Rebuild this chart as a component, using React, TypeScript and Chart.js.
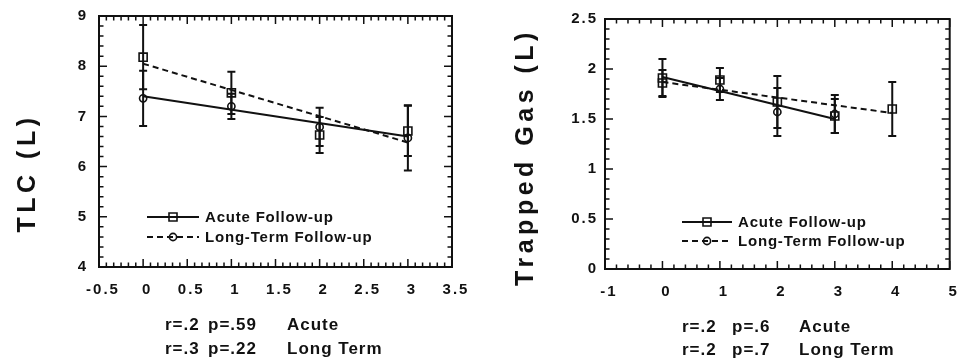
import React, { useEffect, useRef } from "react";
import { Chart, registerables } from "chart.js";

Chart.register(...registerables);

const FONT = "'Liberation Sans', Arial, Helvetica, sans-serif";
const INK = "#111111";

// ---------- TLC panel data ----------
const tlcVisits = [0, 1, 2, 3];
const tlcAcute = [8.18, 7.47, 6.63, 6.71];
const tlcAcuteErr = [0.64, 0.42, 0.36, 0.5];
const tlcLong = [7.36, 7.2, 6.79, 6.57];
const tlcLongErr = [0.55, 0.25, 0.38, 0.65];
const tlcFitSolidX = [0, 3];
const tlcFitSolidY = [7.4, 6.6];
const tlcFitDashX = [0, 3];
const tlcFitDashY = [8.05, 6.48];
const tlcStats = [
  ["r=.2", "p=.59", "Acute"],
  ["r=.3", "p=.22", "Long Term"],
];

// ---------- Trapped gas panel data ----------
const tgAcuteVisits = [0, 1, 2, 3];
const tgAcute = [1.86, 1.89, 1.67, 1.53];
const tgAcuteErr = [0.13, 0.12, 0.26, 0.17];
const tgLongVisits = [0, 1, 2, 3, 4];
const tgLong = [1.91, 1.8, 1.57, 1.55, 1.6];
const tgLongErr = [0.19, 0.11, 0.24, 0.19, 0.27];
const tgLongStyles = ["rect", "circle", "circle", "circle", "rect"];
const tgFitSolidX = [0, 3];
const tgFitSolidY = [1.92, 1.5];
const tgFitDashX = [0, 4];
const tgFitDashY = [1.87, 1.56];
const tgStats = [
  ["r=.2", "p=.6", "Acute"],
  ["r=.2", "p=.7", "Long Term"],
];

const legendLabels = ["Acute Follow-up", "Long-Term Follow-up"];

const zip = (xs: number[], ys: number[]) => xs.map((x, i) => ({ x, y: ys[i] }));
const fmtTick = (v: any) => String(Math.round(Number(v) * 1000) / 1000);

type Spec = {
  id: string;
  left: number;
  width: number;
  title: string;
  titleX: number;
  titleY: number;
  xMin: number;
  xMax: number;
  xStep: number;
  xMinor: number;
  xMajorEvery: number;
  yMin: number;
  yMax: number;
  yStep: number;
  yMinor: number;
  yMajorEvery: number;
  area: { left: number; right: number; top: number; bottom: number };
  yLabelPad: number;
  xLabelPad: number;
  legend: { x1: number; x2: number; mx: number; tx: number; rows: number[] };
  stats: string[][];
  statCols: number[];
  statRows: number[];
  datasets: any[];
};

function drawMarker(ctx: CanvasRenderingContext2D, style: string, x: number, y: number) {
  ctx.beginPath();
  if (style === "rect") {
    ctx.rect(x - 4, y - 4, 8, 8);
  } else {
    ctx.arc(x, y, 3.6, 0, Math.PI * 2);
  }
  ctx.stroke();
}

function makePlugin(spec: Spec) {
  return {
    id: "panel_" + spec.id,
    beforeDraw(chart: any) {
      (chart.ctx as any).letterSpacing = "2px";
    },
    beforeDatasetsDraw(chart: any) {
      const ctx: CanvasRenderingContext2D = chart.ctx;
      const xs = chart.scales.x;
      const ys = chart.scales.y;
      ctx.save();
      ctx.strokeStyle = INK;
      ctx.lineWidth = 2;
      chart.data.datasets.forEach((ds: any) => {
        if (!ds.errors) return;
        ds.data.forEach((pt: any, j: number) => {
          const e = ds.errors[j];
          const x = xs.getPixelForValue(pt.x);
          const y1 = ys.getPixelForValue(pt.y + e);
          const y2 = ys.getPixelForValue(pt.y - e);
          ctx.beginPath();
          ctx.moveTo(x, y1);
          ctx.lineTo(x, y2);
          ctx.moveTo(x - 4, y1);
          ctx.lineTo(x + 4, y1);
          ctx.moveTo(x - 4, y2);
          ctx.lineTo(x + 4, y2);
          ctx.stroke();
        });
      });
      ctx.restore();
    },
    afterDatasetsDraw(chart: any) {
      const ctx: CanvasRenderingContext2D = chart.ctx;
      const { left, right, top, bottom } = chart.chartArea;
      const xs = chart.scales.x;
      const ys = chart.scales.y;
      ctx.save();
      (ctx as any).letterSpacing = "0px";
      ctx.strokeStyle = INK;
      // frame
      ctx.lineWidth = 2;
      ctx.strokeRect(left, top, right - left, bottom - top);
      // ticks
      ctx.lineWidth = 1.5;
      const nx = Math.round((spec.xMax - spec.xMin) / spec.xMinor);
      for (let i = 0; i <= nx; i++) {
        const px = xs.getPixelForValue(spec.xMin + i * spec.xMinor);
        const len = i % spec.xMajorEvery === 0 ? 8 : 4.5;
        ctx.beginPath();
        ctx.moveTo(px, bottom);
        ctx.lineTo(px, bottom - len);
        ctx.moveTo(px, top);
        ctx.lineTo(px, top + len);
        ctx.stroke();
      }
      const ny = Math.round((spec.yMax - spec.yMin) / spec.yMinor);
      for (let i = 0; i <= ny; i++) {
        const py = ys.getPixelForValue(spec.yMin + i * spec.yMinor);
        const len = i % spec.yMajorEvery === 0 ? 8 : 4.5;
        ctx.beginPath();
        ctx.moveTo(left, py);
        ctx.lineTo(left + len, py);
        ctx.moveTo(right, py);
        ctx.lineTo(right - len, py);
        ctx.stroke();
      }
      // legend
      const lg = spec.legend;
      ctx.lineWidth = 2;
      lg.rows.forEach((ry, k) => {
        ctx.setLineDash(k === 0 ? [] : [6, 4]);
        ctx.beginPath();
        ctx.moveTo(lg.x1, ry);
        ctx.lineTo(lg.x2, ry);
        ctx.stroke();
        ctx.setLineDash([]);
        ctx.lineWidth = 1.6;
        drawMarker(ctx, k === 0 ? "rect" : "circle", lg.mx, ry);
        ctx.lineWidth = 2;
        ctx.fillStyle = INK;
        ctx.font = `bold 15px ${FONT}`;
        (ctx as any).letterSpacing = "0.8px";
        ctx.textAlign = "left";
        ctx.textBaseline = "middle";
        ctx.fillText(legendLabels[k], lg.tx, ry + 1);
        (ctx as any).letterSpacing = "0px";
      });
      ctx.restore();
    },
    afterDraw(chart: any) {
      const ctx: CanvasRenderingContext2D = chart.ctx;
      ctx.save();
      ctx.fillStyle = INK;
      // axis title
      ctx.font = `bold 25px ${FONT}`;
      (ctx as any).letterSpacing = "4.5px";
      ctx.translate(spec.titleX, spec.titleY);
      ctx.rotate(-Math.PI / 2);
      ctx.textAlign = "center";
      ctx.textBaseline = "alphabetic";
      ctx.fillText(spec.title, 0, 0);
      ctx.setTransform(1, 0, 0, 1, 0, 0);
      // statistics
      ctx.font = `bold 17px ${FONT}`;
      (ctx as any).letterSpacing = "1px";
      ctx.textAlign = "left";
      ctx.textBaseline = "middle";
      spec.stats.forEach((row, r) => {
        row.forEach((txt, c) => {
          ctx.fillText(txt, spec.statCols[c], spec.statRows[r]);
        });
      });
      ctx.restore();
      (ctx as any).letterSpacing = "0px";
    },
  };
}

function buildConfig(spec: Spec): any {
  const tickFont = { family: FONT, size: 15, weight: "bold" };
  const H = 358;
  return {
    type: "scatter",
    data: { datasets: spec.datasets },
    options: {
      animation: false,
      responsive: false,
      devicePixelRatio: 1,
      layout: {
        padding: { left: 0, top: spec.area.top, right: spec.width - spec.area.right, bottom: 0 },
      },
      plugins: { legend: { display: false }, tooltip: { enabled: false } },
      scales: {
        x: {
          type: "linear",
          min: spec.xMin,
          max: spec.xMax,
          grid: { display: false, drawTicks: false },
          border: { display: false },
          ticks: {
            stepSize: spec.xStep,
            color: INK,
            font: tickFont,
            padding: spec.xLabelPad,
            labelOffset: 4,
            maxRotation: 0,
            autoSkip: false,
            callback: fmtTick,
          },
          afterFit: (s: any) => {
            s.height = H - spec.area.bottom;
            s.paddingLeft = 0;
            s.paddingRight = 0;
          },
        },
        y: {
          type: "linear",
          min: spec.yMin,
          max: spec.yMax,
          grid: { display: false, drawTicks: false },
          border: { display: false },
          ticks: {
            stepSize: spec.yStep,
            color: INK,
            font: tickFont,
            padding: spec.yLabelPad,
            callback: fmtTick,
          },
          afterFit: (s: any) => {
            s.width = spec.area.left;
            s.paddingTop = 0;
            s.paddingBottom = 0;
          },
        },
      },
    },
    plugins: [makePlugin(spec)],
  };
}

const markerBase = {
  showLine: false,
  backgroundColor: "rgba(0,0,0,0)",
  borderColor: INK,
  pointBorderWidth: 1.6,
  pointBackgroundColor: "rgba(0,0,0,0)",
  pointBorderColor: INK,
};
const fitBase = {
  showLine: true,
  pointRadius: 0,
  borderColor: INK,
  borderWidth: 2,
  backgroundColor: "rgba(0,0,0,0)",
  fill: false,
};

const tlcSpec: Spec = {
  id: "tlc",
  left: 0,
  width: 480,
  title: "TLC (L)",
  titleX: 35,
  titleY: 173,
  xMin: -0.5,
  xMax: 3.5,
  xStep: 0.5,
  xMinor: 0.5 / 6,
  xMajorEvery: 6,
  yMin: 4,
  yMax: 9,
  yStep: 1,
  yMinor: 0.2,
  yMajorEvery: 5,
  area: { left: 99, right: 452, top: 16, bottom: 267 },
  yLabelPad: 11,
  xLabelPad: 14,
  legend: { x1: 147, x2: 199, mx: 173, tx: 205, rows: [217, 237] },
  stats: tlcStats,
  statCols: [165, 208, 287],
  statRows: [325, 349],
  datasets: [
    { ...fitBase, label: "Fit (solid)", data: zip(tlcFitSolidX, tlcFitSolidY) },
    { ...fitBase, label: "Fit (dashed)", borderDash: [6, 4], data: zip(tlcFitDashX, tlcFitDashY) },
    { ...markerBase, label: legendLabels[0], pointStyle: "rect", pointRadius: 5.7, data: zip(tlcVisits, tlcAcute), errors: tlcAcuteErr },
    { ...markerBase, label: legendLabels[1], pointStyle: "circle", pointRadius: 3.6, data: zip(tlcVisits, tlcLong), errors: tlcLongErr },
  ],
};

const tgSpec: Spec = {
  id: "tg",
  left: 480,
  width: 477,
  title: "Trapped Gas (L)",
  titleX: 53,
  titleY: 157,
  xMin: -1,
  xMax: 5,
  xStep: 1,
  xMinor: 0.2,
  xMajorEvery: 5,
  yMin: 0,
  yMax: 2.5,
  yStep: 0.5,
  yMinor: 0.1,
  yMajorEvery: 5,
  area: { left: 125, right: 471, top: 19, bottom: 269 },
  yLabelPad: 7,
  xLabelPad: 14,
  legend: { x1: 202, x2: 252, mx: 227, tx: 258, rows: [222, 241] },
  stats: tgStats,
  statCols: [202, 252, 319],
  statRows: [327, 350],
  datasets: [
    { ...fitBase, label: "Fit (solid)", data: zip(tgFitSolidX, tgFitSolidY) },
    { ...fitBase, label: "Fit (dashed)", borderDash: [6, 4], data: zip(tgFitDashX, tgFitDashY) },
    { ...markerBase, label: legendLabels[0], pointStyle: "rect", pointRadius: 5.7, data: zip(tgAcuteVisits, tgAcute), errors: tgAcuteErr },
    {
      ...markerBase,
      label: legendLabels[1],
      pointStyle: tgLongStyles,
      pointRadius: tgLongStyles.map((s) => (s === "rect" ? 5.7 : 3.6)),
      data: zip(tgLongVisits, tgLong),
      errors: tgLongErr,
    },
  ],
};

function Panel({ spec }: { spec: Spec }) {
  const ref = useRef<HTMLCanvasElement | null>(null);
  useEffect(() => {
    if (!ref.current) return;
    const chart = new Chart(ref.current, buildConfig(spec));
    return () => chart.destroy();
  }, [spec]);
  return (
    <canvas
      ref={ref}
      width={spec.width}
      height={358}
      style={{ position: "absolute", left: spec.left, top: 0, width: spec.width, height: 358 }}
    />
  );
}

export default function App() {
  return (
    <div style={{ position: "absolute", left: 0, top: 0, width: 957, height: 358, background: "#fff", overflow: "hidden" }}>
      <Panel spec={tlcSpec} />
      <Panel spec={tgSpec} />
    </div>
  );
}
